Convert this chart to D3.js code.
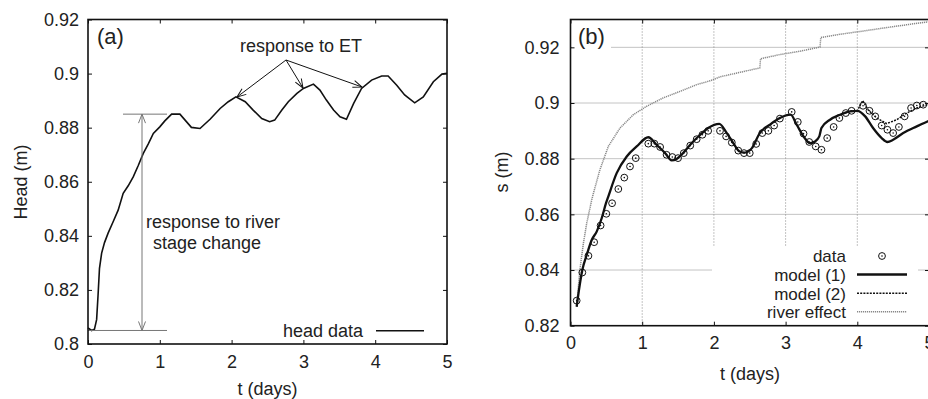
<!DOCTYPE html>
<html>
<head>
<meta charset="utf-8">
<script src="https://cdn.jsdelivr.net/npm/d3@7"></script>
<style>
  html, body { margin: 0; padding: 0; background: #fff; }
  svg { display: block; font-family: "Liberation Sans", Arial, sans-serif; }
  .tick text { font-size: 18px; fill: #222; }
</style>
</head>
<body>
<svg id="chart" width="928" height="399"></svg>
<script>
// ---- panel (a): head data ----
const headT = [0, 0.05, 0.09, 0.12, 0.14, 0.16, 0.19, 0.23, 0.28, 0.35, 0.42, 0.49, 0.56, 0.63,
  0.70, 0.77, 0.84, 0.91, 1.00, 1.07, 1.165, 1.28, 1.44, 1.56, 1.70, 1.84, 1.954, 2.06, 2.19, 2.30,
  2.42, 2.53, 2.60, 2.70, 2.79, 2.91, 3.0, 3.14, 3.23, 3.32, 3.42, 3.51, 3.60, 3.70, 3.81, 3.95,
  4.09, 4.18, 4.30, 4.41, 4.55, 4.67, 4.81, 4.93, 5.0];
const headV = [0.806, 0.805, 0.8055, 0.809, 0.818, 0.828, 0.8336, 0.8375, 0.841, 0.8452, 0.8495,
  0.8557, 0.8585, 0.8618, 0.866, 0.8705, 0.874, 0.8779, 0.8803, 0.8825, 0.885, 0.885, 0.8801,
  0.8797, 0.8831, 0.8871, 0.8896, 0.8914, 0.8896, 0.8865, 0.8834, 0.8822, 0.8828, 0.8865, 0.8896,
  0.8927, 0.8945, 0.8961, 0.8939, 0.8902, 0.8865, 0.884, 0.8831, 0.889, 0.8945, 0.8976, 0.8991,
  0.8991, 0.8957, 0.8921, 0.8892, 0.8914, 0.897, 0.8998, 0.9001];

// ---- panel (b): observed s and models ----
const dataT = [0.086, 0.165, 0.25, 0.33, 0.42, 0.50, 0.58, 0.667, 0.75, 0.83, 0.91, 1.085, 1.17,
  1.25, 1.34, 1.42, 1.50, 1.58, 1.67, 1.76, 1.84, 1.92, 2.085, 2.17, 2.25, 2.34, 2.42, 2.50, 2.59,
  2.675, 2.76, 2.84, 2.92, 3.085, 3.17, 3.25, 3.33, 3.42, 3.50, 3.58, 3.67, 3.75, 3.84, 3.92, 4.08,
  4.17, 4.25, 4.34, 4.42, 4.50, 4.58, 4.66, 4.75, 4.83, 4.92];
const dataS = [0.829, 0.8391, 0.8451, 0.850, 0.856, 0.8602, 0.864, 0.8691, 0.8732, 0.8772, 0.8802,
  0.8854, 0.8854, 0.8842, 0.8814, 0.8806, 0.8802, 0.882, 0.8847, 0.887, 0.8886, 0.890, 0.890, 0.888,
  0.8858, 0.8829, 0.882, 0.882, 0.8853, 0.8892, 0.890, 0.8919, 0.8944, 0.8968, 0.8932, 0.889, 0.886,
  0.8844, 0.8832, 0.8874, 0.8914, 0.8946, 0.8964, 0.8972, 0.899, 0.8972, 0.8952, 0.8919, 0.8904,
  0.8892, 0.8914, 0.8952, 0.8982, 0.8991, 0.8994];

const model1T = [0.086, 0.118, 0.165, 0.226, 0.296, 0.365, 0.435, 0.495, 0.527, 0.644, 0.784, 0.923,
  1.085, 1.20, 1.32, 1.41, 1.48, 1.57, 1.69, 1.81, 1.92, 2.075, 2.18, 2.27, 2.36, 2.43, 2.53, 2.64,
  2.78, 2.92, 3.07, 3.155, 3.25, 3.34, 3.41, 3.47, 3.50, 3.62, 3.76, 3.90, 4.0, 4.11, 4.22, 4.34,
  4.42, 4.50, 4.64, 4.83, 5.0];
const model1S = [0.8268, 0.8328, 0.840, 0.8454, 0.8508, 0.8538, 0.8586, 0.864, 0.8664, 0.8748,
  0.8808, 0.8844, 0.8877, 0.885, 0.882, 0.8794, 0.8799, 0.882, 0.8856, 0.8886, 0.891, 0.8925, 0.8892,
  0.8856, 0.8826, 0.8822, 0.8838, 0.8892, 0.8922, 0.8946, 0.8958, 0.8922, 0.888, 0.8856, 0.8862,
  0.888, 0.891, 0.894, 0.8958, 0.897, 0.8972, 0.8952, 0.891, 0.8874, 0.886, 0.8868, 0.8892, 0.8916,
  0.8936];

const model2T = [3.90, 4.0, 4.075, 4.15, 4.27, 4.41, 4.55, 4.69, 4.83, 5.0];
const model2S = [0.897, 0.8972, 0.9009, 0.8976, 0.8946, 0.8926, 0.894, 0.8964, 0.8982, 0.8996];

const riverT = [0.086, 0.13, 0.18, 0.226, 0.296, 0.32, 0.41, 0.527, 0.69, 0.876, 1.06, 1.29, 1.53,
  1.76, 1.95, 2.085, 2.36, 2.64, 2.65, 2.92, 3.20, 3.48, 3.49, 3.76, 4.04, 4.41, 4.74, 5.0];
const riverS = [0.8268, 0.840, 0.8496, 0.8568, 0.8652, 0.8676, 0.876, 0.8844, 0.891, 0.8958, 0.8988,
  0.9018, 0.9042, 0.9066, 0.908, 0.9094, 0.911, 0.9126, 0.9159, 0.9174, 0.9186, 0.9201, 0.9235,
  0.9247, 0.9257, 0.9271, 0.9283, 0.9292];

// ---- ticks ----
const xTicks = [0, 1, 2, 3, 4, 5];
const yTicksA = [0.8, 0.82, 0.84, 0.86, 0.88, 0.9, 0.92];
const yTicksB = [0.82, 0.84, 0.86, 0.88, 0.9, 0.92];
const gridX = [1, 2, 3, 4];
const gridY = [0.84, 0.86, 0.88, 0.9, 0.92];

const svg = d3.select("#chart");
const ink = "#111";

// arrow heads (open V)
const defs = svg.append("defs");
function marker(id, color) {
  defs.append("marker")
    .attr("id", id)
    .attr("viewBox", "-10 -5 12 10")
    .attr("refX", 0).attr("refY", 0)
    .attr("markerWidth", 12).attr("markerHeight", 10)
    .attr("markerUnits", "userSpaceOnUse")
    .attr("orient", "auto-start-reverse")
    .append("path")
    .attr("d", "M-9,-3.5 L0,0 L-9,3.5")
    .attr("fill", "none")
    .attr("stroke", color)
    .attr("stroke-width", 1);
}
marker("arrBlack", ink);
marker("arrGray", "#777");

function frame(g, x, y, yTicks, padY) {
  const [x0, x1] = x.range();
  const [y0, y1] = y.range();
  g.append("g").attr("transform", `translate(0,${y0})`)
    .call(d3.axisBottom(x).tickValues(xTicks).tickSize(-4).tickPadding(11).tickFormat(d3.format("d")))
    .call(a => a.select(".domain").remove());
  g.append("g").attr("transform", `translate(0,${y1})`)
    .call(d3.axisTop(x).tickValues(xTicks).tickSize(-4).tickFormat(""))
    .call(a => a.select(".domain").remove());
  g.append("g").attr("transform", `translate(${x0},0)`)
    .call(d3.axisLeft(y).tickValues(yTicks).tickSize(-4).tickPadding(padY).tickFormat(d => String(d)))
    .call(a => a.select(".domain").remove());
  g.append("g").attr("transform", `translate(${x1},0)`)
    .call(d3.axisRight(y).tickValues(yTicks).tickSize(-4).tickFormat(""))
    .call(a => a.select(".domain").remove());
  g.selectAll(".tick line").attr("stroke", ink).attr("stroke-width", 1);
  g.append("rect")
    .attr("x", x0).attr("y", y1)
    .attr("width", x1 - x0).attr("height", y0 - y1)
    .attr("fill", "none").attr("stroke", ink).attr("stroke-width", 1.6);
}

// ================= panel (a) =================
const xA = d3.scaleLinear().domain([0, 5]).range([88, 447]);
const yA = d3.scaleLinear().domain([0.8, 0.92]).range([344, 19.5]);
const gA = svg.append("g");

const headLine = d3.line().x(i => xA(headT[i])).y(i => yA(headV[i]));
gA.append("path")
  .attr("d", headLine(d3.range(headT.length)))
  .attr("fill", "none").attr("stroke", ink).attr("stroke-width", 1.6);

// river stage change annotation
gA.append("line").attr("x1", 123).attr("x2", 167).attr("y1", yA(0.885)).attr("y2", yA(0.885))
  .attr("stroke", "#777").attr("stroke-width", 1);
gA.append("line").attr("x1", xA(0)).attr("x2", 167).attr("y1", yA(0.805)).attr("y2", yA(0.805))
  .attr("stroke", "#777").attr("stroke-width", 1);
gA.append("line").attr("x1", 142).attr("x2", 142).attr("y1", yA(0.885)).attr("y2", yA(0.805))
  .attr("stroke", "#777").attr("stroke-width", 1)
  .attr("marker-start", "url(#arrGray)").attr("marker-end", "url(#arrGray)");
gA.append("text").attr("x", 146).attr("y", 228).style("font-size", "18px").attr("fill", "#222")
  .text("response to river");
gA.append("text").attr("x", 153).attr("y", 249).style("font-size", "18px").attr("fill", "#222")
  .text("stage change");

// ET annotation
gA.append("text").attr("x", 301).attr("y", 52).attr("text-anchor", "middle")
  .style("font-size", "18px").attr("fill", "#222").text("response to ET");
[[237, 97], [303, 88], [362, 87]].forEach(([ex, ey]) => {
  gA.append("line").attr("x1", 286).attr("y1", 60).attr("x2", ex).attr("y2", ey)
    .attr("stroke", ink).attr("stroke-width", 1).attr("marker-end", "url(#arrBlack)");
});

gA.append("text").attr("x", 97).attr("y", 44).style("font-size", "22px").attr("fill", "#222").text("(a)");

// legend
gA.append("text").attr("x", 363).attr("y", 337).attr("text-anchor", "end")
  .style("font-size", "18px").attr("fill", "#222").text("head data");
gA.append("line").attr("x1", 376).attr("x2", 424).attr("y1", 330.7).attr("y2", 330.7)
  .attr("stroke", ink).attr("stroke-width", 1.6);

frame(gA, xA, yA, yTicksA, 9);

gA.append("text").attr("x", 267.5).attr("y", 395).attr("text-anchor", "middle")
  .style("font-size", "18px").attr("fill", "#222").text("t (days)");
gA.append("text").attr("transform", "translate(27,182) rotate(-90)").attr("text-anchor", "middle")
  .style("font-size", "18px").attr("fill", "#222").text("Head (m)");

// ================= panel (b) =================
const xB = d3.scaleLinear().domain([0, 5]).range([570.5, 929]);
const yB = d3.scaleLinear().domain([0.82, 0.93]).range([325.7, 19.5]);
const gB = svg.append("g");

// grid
gB.selectAll(".gx").data(gridX).join("line")
  .attr("x1", d => xB(d)).attr("x2", d => xB(d))
  .attr("y1", yB.range()[1]).attr("y2", yB.range()[0])
  .attr("stroke", "#888").attr("stroke-width", 1).attr("stroke-dasharray", "1,2");
gB.selectAll(".gy").data(gridY).join("line")
  .attr("x1", xB.range()[0]).attr("x2", xB.range()[1])
  .attr("y1", d => yB(d)).attr("y2", d => yB(d))
  .attr("stroke", "#888").attr("stroke-width", 1).attr("stroke-dasharray", "1,1");

// opaque boxes behind label and key
gB.append("rect").attr("x", 572).attr("y", 21).attr("width", 39).attr("height", 32).attr("fill", "#fff");
gB.append("rect").attr("x", 712).attr("y", 247).attr("width", 206).attr("height", 77).attr("fill", "#fff");

const riverLine = d3.line().x(i => xB(riverT[i])).y(i => yB(riverS[i]));
gB.append("path").attr("d", riverLine(d3.range(riverT.length)))
  .attr("fill", "none").attr("stroke", "#888").attr("stroke-width", 1.5).attr("stroke-dasharray", "1.2,0.8");

const m2Line = d3.line().x(i => xB(model2T[i])).y(i => yB(model2S[i]));
gB.append("path").attr("d", m2Line(d3.range(model2T.length)))
  .attr("fill", "none").attr("stroke", ink).attr("stroke-width", 1.5).attr("stroke-dasharray", "2,1.2");

const m1Line = d3.line().x(i => xB(model1T[i])).y(i => yB(model1S[i])).curve(d3.curveMonotoneX);
gB.append("path").attr("d", m1Line(d3.range(model1T.length)))
  .attr("fill", "none").attr("stroke", ink).attr("stroke-width", 2.3);

function obsMark(sel) {
  sel.append("circle").attr("r", 3.4).attr("fill", "none").attr("stroke", ink).attr("stroke-width", 1);
  sel.append("circle").attr("r", 0.8).attr("fill", ink);
}
gB.selectAll(".obs").data(d3.range(dataT.length)).join("g")
  .attr("transform", i => `translate(${xB(dataT[i])},${yB(dataS[i])})`)
  .call(obsMark);

gB.append("text").attr("x", 578).attr("y", 44).style("font-size", "22px").attr("fill", "#222").text("(b)");

// key
const keyItems = ["data", "model (1)", "model (2)", "river effect"];
const keyBase = [261.7, 281.2, 299.8, 317.5];
keyItems.forEach((k, i) => {
  gB.append("text").attr("x", 846).attr("y", keyBase[i]).attr("text-anchor", "end")
    .style("font-size", "17px").attr("fill", "#222").text(k);
});
const kg = gB.append("g").attr("transform", "translate(882,256)");
obsMark(kg);
gB.append("line").attr("x1", 857).attr("x2", 907).attr("y1", 274.5).attr("y2", 274.5)
  .attr("stroke", ink).attr("stroke-width", 2.3);
gB.append("line").attr("x1", 857).attr("x2", 907).attr("y1", 293.3).attr("y2", 293.3)
  .attr("stroke", ink).attr("stroke-width", 1.5).attr("stroke-dasharray", "2,1.2");
gB.append("line").attr("x1", 857).attr("x2", 907).attr("y1", 311.7).attr("y2", 311.7)
  .attr("stroke", "#888").attr("stroke-width", 1.5).attr("stroke-dasharray", "1.2,0.8");

frame(gB, xB, yB, yTicksB, 11);

gB.append("text").attr("x", 750).attr("y", 380).attr("text-anchor", "middle")
  .style("font-size", "18px").attr("fill", "#222").text("t (days)");
gB.append("text").attr("transform", "translate(508,172) rotate(-90)").attr("text-anchor", "middle")
  .style("font-size", "18px").attr("fill", "#222").text("s (m)");
</script>
</body>
</html>
